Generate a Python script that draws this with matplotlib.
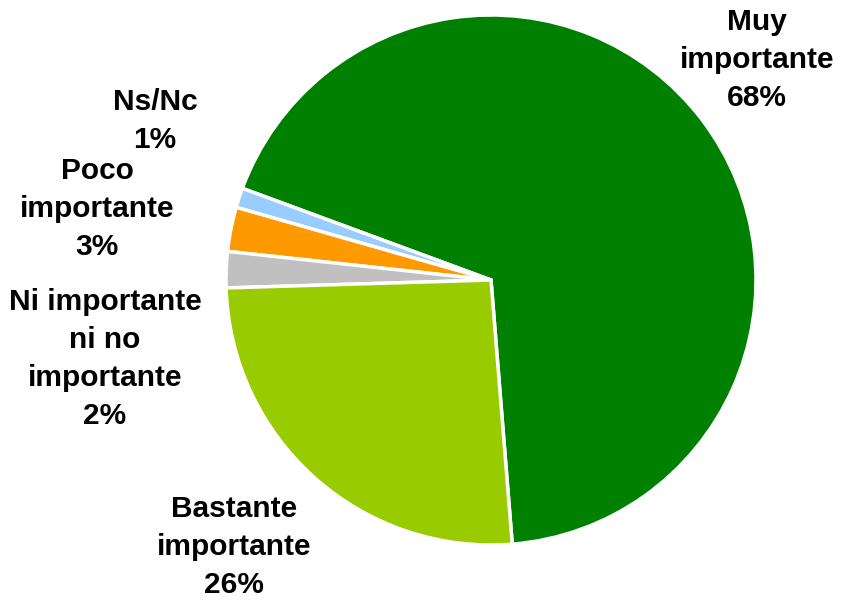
import matplotlib
matplotlib.use("Agg")
import matplotlib.pyplot as plt

categories = ["Muy\nimportante", "Ns/Nc", "Poco\nimportante", "Ni importante\nni no\nimportante", "Bastante\nimportante"]
values = [68.1, 1.2, 2.7, 2.2, 25.8]
pct_labels = ["68%", "1%", "3%", "2%", "26%"]
colors = ["#008000", "#99CCFF", "#FF9900", "#C0C0C0", "#99CC00"]

# label centres in pixel coords (x, y from top)
label_pos = [(757, 60), (155, 121), (97, 209), (105, 359), (234, 547)]

W, H = 862, 602
fig = plt.figure(figsize=(W / 100, H / 100), dpi=100)
ax = fig.add_axes([0, 0, 1, 1])

ax.pie(values, colors=colors, startangle=274.6, counterclock=True,
       center=(491, H - 280), radius=265,
       wedgeprops=dict(edgecolor="white", linewidth=2.5))

ax.set_xlim(0, W)
ax.set_ylim(0, H)
ax.set_aspect("equal")
ax.axis("off")

for cat, pct, (x, y) in zip(categories, pct_labels, label_pos):
    ax.text(x, H - y, f"{cat}\n{pct}", ha="center", va="center",
            fontsize=21.5, fontweight="bold", family="Liberation Sans",
            linespacing=1.45, color="black")

fig.savefig("out.png", dpi=100)
